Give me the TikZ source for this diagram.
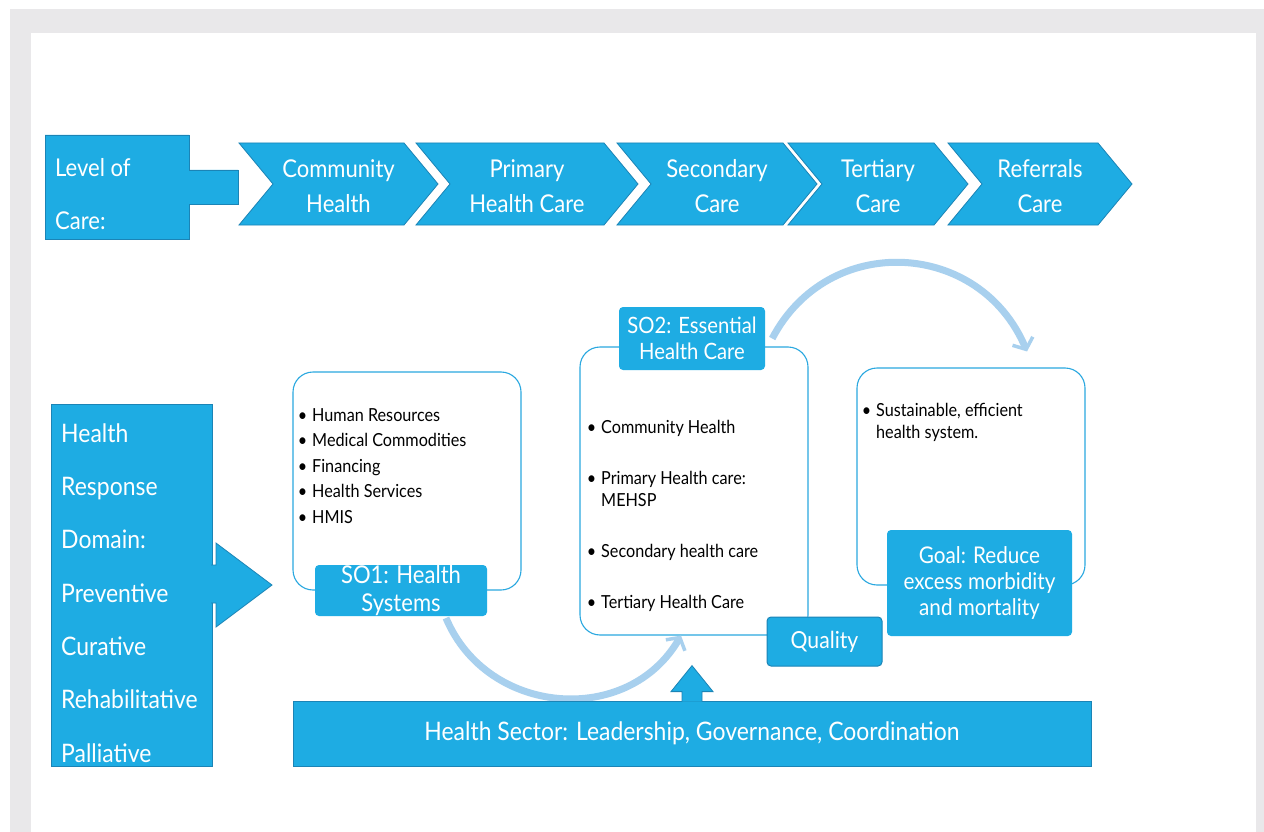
\documentclass[tikz,border=0pt]{standalone}
\usepackage{fontspec}
\setmainfont[FakeStretch=0.9]{Lato}
\usetikzlibrary{arrows.meta,calc,positioning}
\definecolor{CareBlue}{RGB}{30,172,227}
\definecolor{CareEdge}{RGB}{27,132,182}
\definecolor{ArcBlue}{RGB}{168,208,238}
\definecolor{LineBlue}{RGB}{42,168,224}
\definecolor{PanelGrey}{RGB}{233,232,234}

\begin{document}
\begin{tikzpicture}[x=1pt,y=-1pt,
    blueshape/.style={fill=CareBlue,draw=CareEdge,line width=0.8pt},
    wtext/.style={text=white,inner sep=0pt},
    roundbox/.style={draw=LineBlue,fill=white,line width=1.1pt,rounded corners=20pt},
    tag/.style={fill=CareBlue,rounded corners=4pt,text=white,align=center,inner sep=0pt},
    listtext/.style={inner sep=0pt,align=left,font=\fontsize{18}{25.5}\selectfont},
    flowarc/.style={draw=ArcBlue,line width=7pt,
      -{Straight Barb[length=9pt,width=22pt,line width=3.5pt]}}]
  \useasboundingbox (0,0) rectangle (1264,832);
  \fill[PanelGrey] (10,9) rectangle (1264,832);
  \fill[white] (31,33) rectangle (1256,832);

  % level of care
  \draw[blueshape] (45,135) -- (189,135) -- (189,170) -- (238,170) -- (238,204)
    -- (189,204) -- (189,239) -- (45,239) -- cycle;
  \node[wtext,anchor=west,align=left,font=\fontsize{24.5}{53}\selectfont] (level)
    at (55,194.5) {Level of\\Care:};
  \foreach \l/\r/\nm/\txt in {239/438/comm/{Community\\Health},
      416/638/prim/{Primary\\Health Care}, 617/817/sec/{Secondary\\Care},
      788/968/tert/{Tertiary\\Care}, 948/1132/refl/{Referrals\\Care}}{
    \draw[blueshape] (\l,143) -- (\r-34,143) -- (\r,184) -- (\r-34,225)
      -- (\l,225) -- (\l+34,184) -- cycle;
    \node[wtext,align=center,font=\fontsize{24.5}{35}\selectfont] (\nm)
      at ({(\l+\r)/2},186) {\txt};
  }

  % response domain
  \draw[blueshape] (51,404) rectangle (212,766);
  \path[blueshape] (211,565) -- (216,565) -- (216,543) -- (272,585) -- (216,627)
    -- (216,603) -- (211,603);
  \node[wtext,anchor=west,align=left,font=\fontsize{25.5}{53.3}\selectfont] (domain)
    at (61,593) {Health\\Response\\Domain:\\Preventive\\Curative\\Rehabilitative\\Palliative};

  % objective boxes
  \node[roundbox,minimum width=228pt,minimum height=218pt] (sysbox) at (407,481) {};
  \node[roundbox,minimum width=228pt,minimum height=288pt] (carebox) at (694,491) {};
  \node[roundbox,minimum width=228pt,minimum height=217pt] (goalbox) at (971,476.5) {};

  \node[listtext,anchor=west] (syslist) at (312,466) {%
    \llap{\textbullet\hspace{5pt}}Human Resources\\
    \llap{\textbullet\hspace{5pt}}Medical Commodities\\
    \llap{\textbullet\hspace{5pt}}Financing\\
    \llap{\textbullet\hspace{5pt}}Health Services\\
    \llap{\textbullet\hspace{5pt}}HMIS};
  \node[listtext,anchor=west,font=\fontsize{18}{22}\selectfont] (carelist) at (601,515.5) {%
    \llap{\textbullet\hspace{5pt}}Community Health\\[29pt]
    \llap{\textbullet\hspace{5pt}}Primary Health care:\\MEHSP\\[29pt]
    \llap{\textbullet\hspace{5pt}}Secondary health care\\[29pt]
    \llap{\textbullet\hspace{5pt}}Tertiary Health Care};
  \node[listtext,anchor=west,font=\fontsize{18}{22}\selectfont] (goallist) at (876,422) {%
    \llap{\textbullet\hspace{5pt}}Sustainable, efficient\\health system.};

  % arcs between objectives
  \draw[flowarc] ([xshift=39pt]sysbox.south |- 0,618) .. controls +(41,98) and +(-53,92)
    .. ([xshift=-13pt]carebox.south);

  \node[tag,minimum width=172pt,minimum height=51pt,font=\fontsize{24.5}{28}\selectfont]
    (syslbl) at (401,590.5) {SO1: Health\\Systems};
  \node[tag,minimum width=146pt,minimum height=63pt,font=\fontsize{22.5}{26}\selectfont]
    (carelbl) at (692,338.5) {SO2: Essential\\Health Care};
  \node[tag,draw=CareEdge,line width=1pt,minimum width=115pt,minimum height=49pt,
    font=\fontsize{23.5}{26}\selectfont] (quality) at (824.5,641.5) {Quality};
  \node[tag,minimum width=185pt,minimum height=106pt,font=\fontsize{23}{26}\selectfont]
    (goallbl) at (979.5,583) {Goal: Reduce\\excess morbidity\\and mortality};

  \draw[flowarc] ([xshift=7pt]carelbl.east) .. controls +(56,-107) and +(-47,-112)
    .. ([xshift=56pt,yshift=16pt]goalbox.north);

  % sector bar
  \node[blueshape,wtext,minimum width=798pt,minimum height=65pt,
    font=\fontsize{25.5}{28}\selectfont] (bar) at (692,733.5)
    {Health Sector: Leadership, Governance, Coordination};
  \path[blueshape] ([xshift=-10pt,yshift=-1pt]bar.north) -- ++(0,-10) -- ++(-11,0)
    -- ++(21,-26) -- ++(21,26) -- ++(-11,0) -- ++(0,10);
\end{tikzpicture}
\end{document}
